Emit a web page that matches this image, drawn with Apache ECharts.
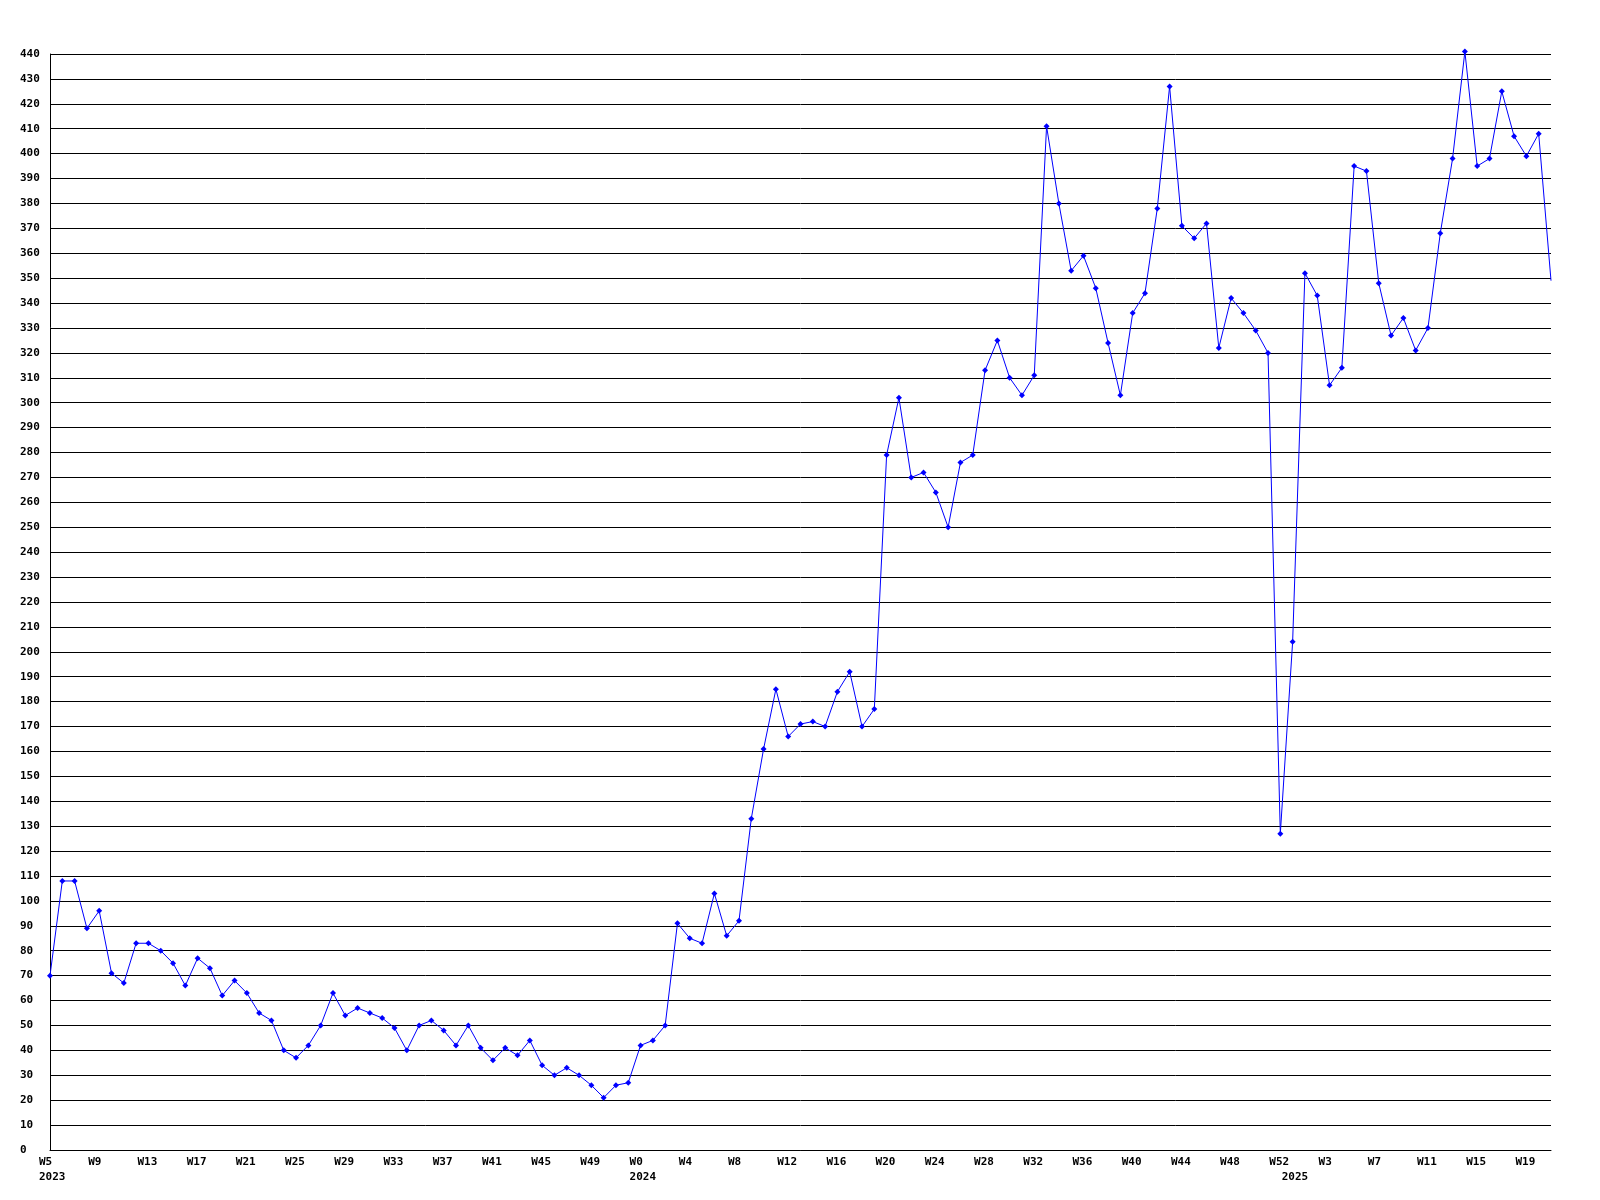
<!DOCTYPE html>
<html>
<head>
<meta charset="utf-8">
<script src="https://cdn.jsdelivr.net/npm/echarts@6/dist/echarts.min.js"></script>
<style>
html,body{margin:0;padding:0;background:#fff;}
#chart{width:1600px;height:1200px;}
</style>
</head>
<body>
<div id="chart"></div>
<script>
// Week categories (2023 W5 .. 2025 W21)
const weeks = [
  'W5','W6','W7','W8','W9','W10','W11','W12','W13','W14','W15','W16','W17','W18','W19','W20',
  'W21','W22','W23','W24','W25','W26','W27','W28','W29','W30','W31','W32','W33','W34','W35','W36',
  'W37','W38','W39','W40','W41','W42','W43','W44','W45','W46','W47','W48','W49','W50','W51','W52',
  'W0','W1','W2','W3','W4','W5','W6','W7','W8','W9','W10','W11','W12','W13','W14','W15',
  'W16','W17','W18','W19','W20','W21','W22','W23','W24','W25','W26','W27','W28','W29','W30','W31',
  'W32','W33','W34','W35','W36','W37','W38','W39','W40','W41','W42','W43','W44','W45','W46','W47',
  'W48','W49','W50','W51','W52',
  'W0','W1','W2','W3','W4','W5','W6','W7','W8','W9','W10','W11','W12','W13','W14','W15',
  'W16','W17','W18','W19','W20','W21'
];
// Year labels shown under the week labels (category index -> year text)
const yearLabels = {0: '2023', 48: '2024', 101: '2025'};

const values = [
  70,108,108,89,96,71,67,83,83,80,75,66,77,73,62,68,
  63,55,52,40,37,42,50,63,54,57,55,53,49,40,50,52,
  48,42,50,41,36,41,38,44,34,30,33,30,26,21,26,27,
  42,44,50,91,85,83,103,86,92,133,161,185,166,171,172,170,
  184,192,170,177,279,302,270,272,264,250,276,279,313,325,310,303,
  311,411,380,353,359,346,324,303,336,344,378,427,371,366,372,322,
  342,336,329,320,127,
  204,352,343,307,314,395,393,348,327,334,321,330,368,398,441,395,
  398,425,407,399,408,349
];

const yMin = 0, yMax = 440, yStep = 10;
const labelEvery = 4;

const font = 'DejaVu Sans Mono';
const seriesData = values.map(function (v, i) {
  return i === values.length - 1 ? {value: v, symbol: 'none'} : v;
});

const chart = echarts.init(document.getElementById('chart'), null, {renderer: 'canvas'});
chart.setOption({
  animation: false,
  backgroundColor: '#ffffff',
  grid: {left: 50, right: 49, top: 54, bottom: 50, containLabel: false},
  xAxis: {
    type: 'category',
    data: weeks,
    boundaryGap: false,
    axisLine: {show: true, lineStyle: {color: '#000', width: 1}},
    axisTick: {show: false},
    splitLine: {show: false},
    axisLabel: {
      interval: function (index) {
        return index % labelEvery === 0 || yearLabels[index] !== undefined;
      },
      margin: 5,
      color: '#000',
      fontFamily: font,
      fontWeight: 'bold',
      fontSize: 11,
      lineHeight: 15,
      align: 'center',
      verticalAlign: 'top',
      formatter: function (value, index) {
        const wk = index % labelEvery === 0 ? value : ' ';
        const y = yearLabels[index];
        if (y) {
          return '{w|' + wk + '}\n{w|' + y + '}';
        }
        return '{w|' + wk + '}';
      },
      rich: {
        w: {width: 22, align: 'left', fontFamily: font, fontWeight: 'bold', fontSize: 11, lineHeight: 15, color: '#000'}
      }
    }
  },
  yAxis: {
    type: 'value',
    min: yMin,
    max: yMax,
    interval: yStep,
    axisLine: {show: true, lineStyle: {color: '#000', width: 1}},
    axisTick: {show: false},
    splitLine: {show: true, lineStyle: {color: '#000', width: 1}},
    axisLabel: {
      margin: 30,
      align: 'left',
      color: '#000',
      fontFamily: font,
      fontWeight: 'bold',
      fontSize: 11
    }
  },
  series: [{
    type: 'line',
    data: seriesData,
    clip: false,
    symbol: 'diamond',
    symbolSize: 6,
    showAllSymbol: true,
    lineStyle: {color: '#0000ff', width: 1},
    itemStyle: {color: '#0000ff'},
    emphasis: {disabled: true}
  }]
});
</script>
</body>
</html>
